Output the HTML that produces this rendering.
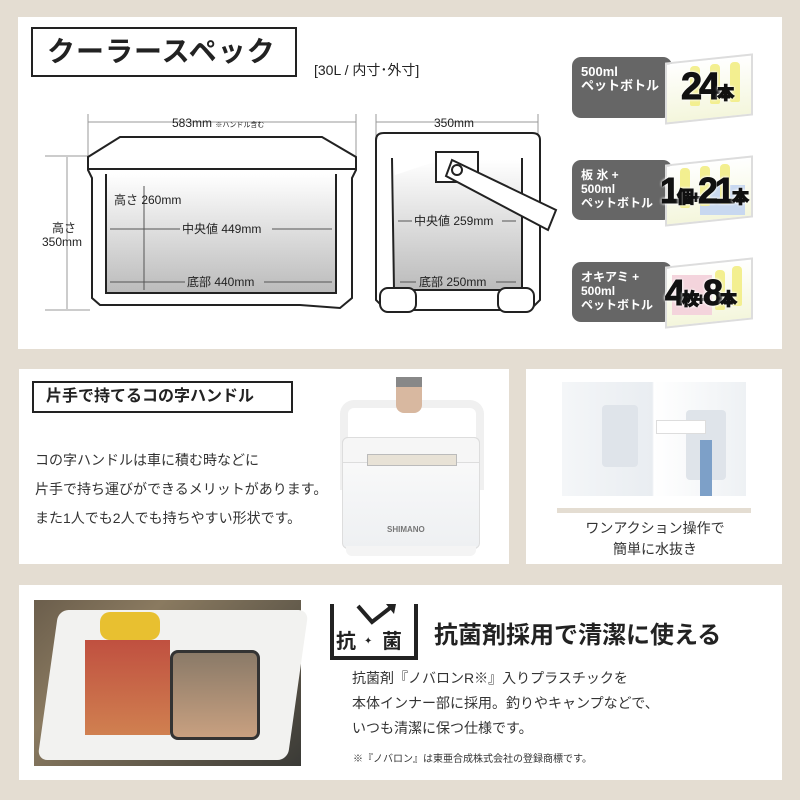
<!DOCTYPE html>
<html><head><meta charset="utf-8"><style>
*{margin:0;padding:0;box-sizing:border-box}
body{width:800px;height:800px;background:#e4ddd2;position:relative;overflow:hidden;font-family:"Liberation Sans","Noto Sans CJK JP",sans-serif;color:#222}
.p{position:absolute;background:#fff}
.a{position:absolute;white-space:nowrap}
.gb{position:absolute;left:572px;width:100px;background:#666;border-radius:9px;color:#fff;font-weight:bold;font-size:13px;line-height:14px;padding:8px 0 0 9px}
.bx{position:absolute;left:665px;width:88px;border:2px solid #ddd;background:linear-gradient(#fff,#f4f6dc);transform:skewY(-6deg)}
.yb{position:absolute;width:10px;height:40px;background:#f3ef90;border-radius:4px 4px 2px 2px}
.big{position:absolute;font-weight:900;color:#111;-webkit-text-stroke:1px #111;text-shadow:0 0 3px #fff,0 0 3px #fff,0 0 3px #fff}
</style></head><body>
<div class="p" style="left:18px;top:17px;width:764px;height:332px"></div>
<div class="a" style="left:31px;top:27px;width:266px;height:50px;border:2px solid #222;font-size:28px;font-weight:bold;line-height:46px;padding-left:14px;letter-spacing:1px">クーラースペック</div>
<div class="a" style="left:314px;top:60px;font-size:14px">[30L / 内寸･外寸]</div>
<svg class="a" style="left:0;top:0" width="560" height="350">
<defs><linearGradient id="g" x1="0" y1="0" x2="0" y2="1"><stop offset="0" stop-color="#fff"/><stop offset="1" stop-color="#bbb"/></linearGradient></defs>
<g stroke="#999" stroke-width="1" fill="none">
<line x1="88" y1="122" x2="356" y2="122"/><line x1="88" y1="114" x2="88" y2="160"/><line x1="356" y1="114" x2="356" y2="160"/>
<line x1="376" y1="122" x2="538" y2="122"/><line x1="376" y1="114" x2="376" y2="140"/><line x1="538" y1="114" x2="538" y2="140"/>
<line x1="67" y1="157" x2="67" y2="309"/><line x1="45" y1="156" x2="90" y2="156"/><line x1="45" y1="310" x2="90" y2="310"/>
</g>
<path d="M88,157 L120,137 L322,137 L356,157 L356,170 L352,178 L352,298 L340,308 L300,305 L100,305 L92,298 L92,178 L88,170 Z" fill="#fff" stroke="#222" stroke-width="2"/>
<line x1="88" y1="169" x2="356" y2="169" stroke="#222" stroke-width="2"/>
<path d="M106,174 L106,293 L336,293 L336,174 Z" fill="url(#g)"/>
<path d="M106,174 L106,293 L336,293 L336,174" fill="none" stroke="#222" stroke-width="2"/>
<path d="M376,140 Q376,133 384,133 L532,133 Q540,133 540,140 L540,300 L530,310 L386,310 L376,300 Z" fill="#fff" stroke="#222" stroke-width="2"/>
<path d="M394,160 L394,290 L522,290 L522,160 L440,160 L395,175" fill="url(#g)"/>
<path d="M392,158 L394,290 L522,290 L522,158" fill="none" stroke="#222" stroke-width="2"/>
<rect x="380" y="288" width="36" height="24" rx="8" fill="#fff" stroke="#222" stroke-width="2"/>
<rect x="498" y="288" width="36" height="24" rx="8" fill="#fff" stroke="#222" stroke-width="2"/>
<rect x="436" y="152" width="42" height="30" fill="#fff" stroke="#222" stroke-width="2"/>
<path d="M452,160 L556,210 L548,230 L446,176 Z" fill="#fff" stroke="#222" stroke-width="2"/>
<circle cx="457" cy="170" r="5" fill="#fff" stroke="#222" stroke-width="2"/>
<line x1="144" y1="186" x2="144" y2="290" stroke="#555"/>
<g stroke="#555"><line x1="110" y1="229" x2="180" y2="229"/><line x1="272" y1="229" x2="332" y2="229"/>
<line x1="110" y1="282" x2="185" y2="282"/><line x1="264" y1="282" x2="332" y2="282"/>
<line x1="398" y1="221" x2="412" y2="221"/><line x1="502" y1="221" x2="516" y2="221"/>
<line x1="400" y1="282" x2="416" y2="282"/><line x1="496" y1="282" x2="516" y2="282"/></g>
<g font-size="12" fill="#222">
<text x="172" y="127">583mm <tspan font-size="7">※ハンドル含む</tspan></text>
<text x="434" y="127">350mm</text>
<text x="52" y="232">高さ</text><text x="42" y="246">350mm</text>
<text x="114" y="204">高さ 260mm</text>
<text x="182" y="233">中央値 449mm</text>
<text x="187" y="286">底部 440mm</text>
<text x="414" y="225">中央値 259mm</text>
<text x="419" y="286">底部 250mm</text>
</g></svg>
<div class="gb" style="top:57px;height:61px">500ml<br>ペットボトル</div>
<div class="bx" style="top:58px;height:62px"></div>
<div class="yb" style="left:690px;top:66px"></div><div class="yb" style="left:710px;top:64px"></div><div class="yb" style="left:730px;top:62px"></div>
<div class="big" style="left:681px;top:66px;font-size:38px;letter-spacing:-3px">24<span style="font-size:17px">本</span></div>
<div class="gb" style="top:160px;height:60px;font-size:12px">板 氷 +<br>500ml<br>ペットボトル</div>
<div class="bx" style="top:160px;height:62px"></div>
<div class="a" style="left:700px;top:185px;width:45px;height:30px;background:#c8d8f0"></div>
<div class="yb" style="left:680px;top:168px"></div><div class="yb" style="left:700px;top:166px"></div><div class="yb" style="left:720px;top:164px"></div>
<div class="big" style="left:660px;top:170px;font-size:36px;letter-spacing:-3px">1<span style="font-size:17px">個+</span>21<span style="font-size:17px">本</span></div>
<div class="gb" style="top:262px;height:60px;font-size:12px">オキアミ +<br>500ml<br>ペットボトル</div>
<div class="bx" style="top:262px;height:62px"></div>
<div class="a" style="left:672px;top:275px;width:40px;height:40px;background:#f4d4dc"></div>
<div class="yb" style="left:715px;top:270px"></div><div class="yb" style="left:732px;top:266px"></div>
<div class="big" style="left:665px;top:272px;font-size:36px;letter-spacing:-3px">4<span style="font-size:17px">枚+</span>8<span style="font-size:17px">本</span></div>

<div class="p" style="left:19px;top:369px;width:490px;height:195px"></div>
<div class="a" style="left:32px;top:381px;width:261px;height:32px;border:2px solid #222;font-size:16px;font-weight:bold;line-height:28px;padding-left:12px">片手で持てるコの字ハンドル</div>
<div class="a" style="left:35px;top:446px;font-size:14px;line-height:29px;color:#333">コの字ハンドルは車に積む時などに<br>片手で持ち運びができるメリットがあります。<br>また1人でも2人でも持ちやすい形状です。</div>
<div class="a" style="left:340px;top:400px;width:144px;height:90px;border:8px solid #f0f0f0;border-bottom:none;border-radius:14px 14px 0 0"></div>
<div class="a" style="left:396px;top:377px;width:26px;height:36px;background:#d8b8a0;border-radius:8px"></div>
<div class="a" style="left:396px;top:377px;width:26px;height:10px;background:#888"></div>
<div class="a" style="left:342px;top:437px;width:138px;height:112px;background:linear-gradient(#fbfbfb,#eef0f2);border:1px solid #ddd;border-radius:6px"></div>
<div class="a" style="left:342px;top:437px;width:138px;height:26px;background:#f6f6f6;border:1px solid #ddd;border-radius:6px 6px 0 0"></div>
<div class="a" style="left:367px;top:454px;width:90px;height:12px;background:#e8e2d6;border:1px solid #bbb"></div>
<div class="a" style="left:346px;top:546px;width:130px;height:10px;background:#f4f4f4;border-radius:0 0 6px 6px"></div>
<div class="a" style="left:387px;top:525px;font-size:8px;font-weight:bold;color:#777">SHIMANO</div>

<div class="p" style="left:526px;top:369px;width:256px;height:195px"></div>
<div class="a" style="left:562px;top:382px;width:184px;height:114px;background:linear-gradient(90deg,#f4f6f8,#e9edf1 49%,#fff 50%,#eef1f4)"></div>
<div class="a" style="left:602px;top:405px;width:36px;height:62px;background:#dfe4ea;border-radius:4px"></div>
<div class="a" style="left:686px;top:410px;width:40px;height:70px;background:#dfe4ea;border-radius:4px"></div>
<div class="a" style="left:656px;top:420px;width:50px;height:14px;background:#fff;border:1px solid #ddd"></div>
<div class="a" style="left:700px;top:440px;width:12px;height:56px;background:#7da0c8"></div>
<div class="a" style="left:557px;top:508px;width:194px;height:5px;background:#e4ddd2"></div>
<div class="a" style="left:578px;top:518px;width:154px;text-align:center;font-size:14px;line-height:21px;color:#333">ワンアクション操作で<br>簡単に水抜き</div>

<div class="p" style="left:19px;top:585px;width:763px;height:195px"></div>
<div class="a" style="left:34px;top:600px;width:267px;height:166px;background:linear-gradient(135deg,#6b5e4c,#8a7a60 30%,#3a3a36)"></div>
<div class="a" style="left:48px;top:610px;width:250px;height:150px;background:#f2f2f0;border-radius:10px;transform:skewX(-8deg)"></div>
<div class="a" style="left:85px;top:640px;width:85px;height:95px;background:linear-gradient(#c05040,#d08050)"></div>
<div class="a" style="left:170px;top:650px;width:90px;height:90px;background:linear-gradient(#8a7a68,#c8a080);border:3px solid #333;border-radius:8px"></div>
<div class="a" style="left:100px;top:612px;width:60px;height:28px;background:#e8c030;border-radius:10px"></div>
<svg class="a" style="left:330px;top:602px" width="90" height="60"><path d="M2,2 V56 H86 V2" fill="none" stroke="#222" stroke-width="4"/><path d="M28,4 L42,20 L60,6" fill="none" stroke="#222" stroke-width="4"/><path d="M56,2 L66,2 L64,12 Z" fill="#222"/><text x="6" y="46" font-size="20" font-weight="bold" fill="#222" font-family="Liberation Sans,Noto Sans CJK JP,sans-serif">抗</text><text x="52" y="46" font-size="20" font-weight="bold" fill="#222" font-family="Liberation Sans,Noto Sans CJK JP,sans-serif">菌</text><text x="34" y="42" font-size="10" fill="#222">✦</text></svg>
<div class="a" style="left:434px;top:615px;font-size:24px;font-weight:bold;color:#222">抗菌剤採用で清潔に使える</div>
<div class="a" style="left:352px;top:666px;font-size:14px;line-height:25px;color:#333">抗菌剤『ノバロンR※』入りプラスチックを<br>本体インナー部に採用。釣りやキャンプなどで、<br>いつも清潔に保つ仕様です。</div>
<div class="a" style="left:353px;top:750px;font-size:10px;color:#333">※『ノバロン』は東亜合成株式会社の登録商標です。</div>
</body></html>
